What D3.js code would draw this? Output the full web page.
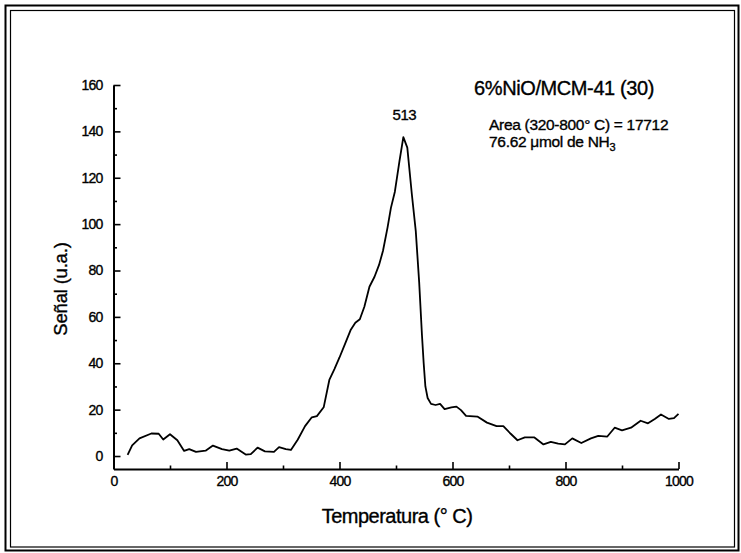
<!DOCTYPE html>
<html>
<head>
<meta charset="utf-8">
<script src="https://cdn.jsdelivr.net/npm/d3@7"></script>
<style>
  html, body { margin: 0; padding: 0; background: #fff; }
  svg { display: block; }
  text { font-family: "Liberation Sans Narrow", "Liberation Sans", Arial, sans-serif; fill: #000;
    stroke: #000; stroke-width: 0.35px; }
</style>
</head>
<body>
<div id="host"></div>
<script>
// TPD curve, temperature (°C) vs signal (a.u.)
const temps = [25, 33, 46, 67, 80, 88, 100, 113, 125, 134, 146, 163, 176, 192, 205, 218, 234, 243,
  255, 268, 284, 293, 305, 314, 326, 339, 351, 360, 372, 382, 391, 400, 410, 420, 428, 436, 444,
  453, 462, 470, 477, 485, 491, 498, 506, 513, 520, 528, 535, 541, 546, 549, 552, 556, 562, 570,
  578, 586, 598, 607, 615, 624, 644, 661, 678, 690, 703, 715, 728, 745, 761, 774, 787, 799, 812,
  828, 845, 858, 874, 887, 900, 916, 933, 946, 958, 969, 983, 992, 1000];
const signal = [0.5, 4.6, 7.6, 9.7, 9.6, 7.1, 9.4, 6.8, 2.2, 3, 1.8, 2.3, 4.5, 3, 2.3, 3.2, 0.6, 0.8,
  3.6, 2, 1.8, 3.8, 3, 2.6, 7, 12.9, 16.7, 17.2, 21, 32.8, 37.5, 42.5, 48.5, 54.5, 57.5, 59, 64.4,
  73, 77.3, 82.4, 88.5, 98.5, 107, 114, 127, 137.5, 133, 113, 97, 75, 52, 40, 30, 25, 22.5, 22,
  22.5, 20.2, 21, 21.3, 19.8, 17.3, 17, 14.4, 12.9, 12.9, 9.6, 6.8, 8, 8, 5, 6.1, 5.3, 5, 7.6,
  5.6, 7.6, 8.7, 8.4, 12.2, 11.1, 12.2, 15.2, 14.1, 16, 17.9, 16, 16.3, 18.2];

const xTicks = [0, 200, 400, 600, 800, 1000];
const xMinor = [100, 300, 500, 700, 900];
const yTicks = [0, 20, 40, 60, 80, 100, 120, 140, 160];
const yMinor = [10, 30, 50, 70, 90, 110, 130, 150];

const peakTemp = 513;
const title = '6%NiO/MCM-41 (30)';

const width = 741, height = 553;
const svg = d3.select('#host').append('svg').attr('width', width).attr('height', height);

// double frame
svg.append('rect').attr('x', 5.5).attr('y', 5.5).attr('width', 733).attr('height', 545)
  .attr('fill', 'none').attr('stroke', '#000').attr('stroke-width', 2);
svg.append('rect').attr('x', 10.5).attr('y', 10.5).attr('width', 724).attr('height', 536.5)
  .attr('fill', 'none').attr('stroke', '#000').attr('stroke-width', 1.2);

const x = d3.scaleLinear().domain([0, 1000]).range([113.5, 678.5]);
const y = d3.scaleLinear().domain([-5.6, 160]).range([469, 85]);

// x axis (ticks pointing up)
const gx = svg.append('g').attr('transform', `translate(0,${y(-5.6)})`);
gx.call(d3.axisBottom(x).tickValues(xTicks).tickSizeInner(-7).tickSizeOuter(0).tickPadding(7)
  .tickFormat(d3.format('d')));
gx.append('g').call(d3.axisBottom(x).tickValues(xMinor).tickSize(-3.5).tickFormat(''))
  .select('.domain').remove();

// y axis (ticks pointing right)
const gy = svg.append('g').attr('transform', `translate(${x(0)},0)`);
gy.call(d3.axisLeft(y).tickValues(yTicks).tickSizeInner(-7).tickSizeOuter(0).tickPadding(11)
  .tickFormat(d3.format('d')));
gy.append('g').call(d3.axisLeft(y).tickValues(yMinor).tickSize(-3.5).tickFormat(''))
  .select('.domain').remove();

svg.selectAll('.domain').attr('stroke', '#000').attr('stroke-width', 2);
svg.selectAll('.tick line').attr('stroke', '#000').attr('stroke-width', 1.6);
svg.selectAll('.tick text')
  .attr('font-family', '"Liberation Sans Narrow", "Liberation Sans", Arial, sans-serif')
  .attr('font-size', 14).attr('letter-spacing', -0.8).attr('fill', '#000');
gx.selectAll('.tick text').attr('dy', '0.71em');

// curve
const line = d3.line().x((d, i) => x(temps[i])).y(d => y(d)).curve(d3.curveLinear);
svg.append('path').datum(signal).attr('d', line)
  .attr('fill', 'none').attr('stroke', '#000').attr('stroke-width', 1.8)
  .attr('stroke-linejoin', 'round');

// axis titles
svg.append('text').attr('x', 397).attr('y', 523).attr('text-anchor', 'middle')
  .attr('font-size', 20).attr('letter-spacing', -0.5)
  .text('Temperatura (° C)');
svg.append('text').attr('transform', 'translate(67,289) rotate(-90)').attr('text-anchor', 'middle')
  .attr('font-size', 18.5).attr('letter-spacing', -0.2)
  .text('Señal (u.a.)');

// title + annotations
svg.append('text').attr('x', 564).attr('y', 95).attr('text-anchor', 'middle')
  .attr('font-size', 20).attr('letter-spacing', -0.4)
  .text(title);
svg.append('text').attr('x', x(peakTemp) + 1).attr('y', 120).attr('text-anchor', 'middle')
  .attr('font-size', 15).attr('letter-spacing', -0.5)
  .text(String(peakTemp));
svg.append('text').attr('x', 489).attr('y', 130)
  .attr('font-size', 15.5).attr('letter-spacing', -0.3)
  .text('Area (320-800° C) = 17712');
const t2 = svg.append('text').attr('x', 489).attr('y', 147)
  .attr('font-size', 15.5).attr('letter-spacing', -0.3);
t2.append('tspan').text('76.62 μmol de NH');
t2.append('tspan').attr('font-size', 11).attr('dy', 4).text('3');
</script>
</body>
</html>
